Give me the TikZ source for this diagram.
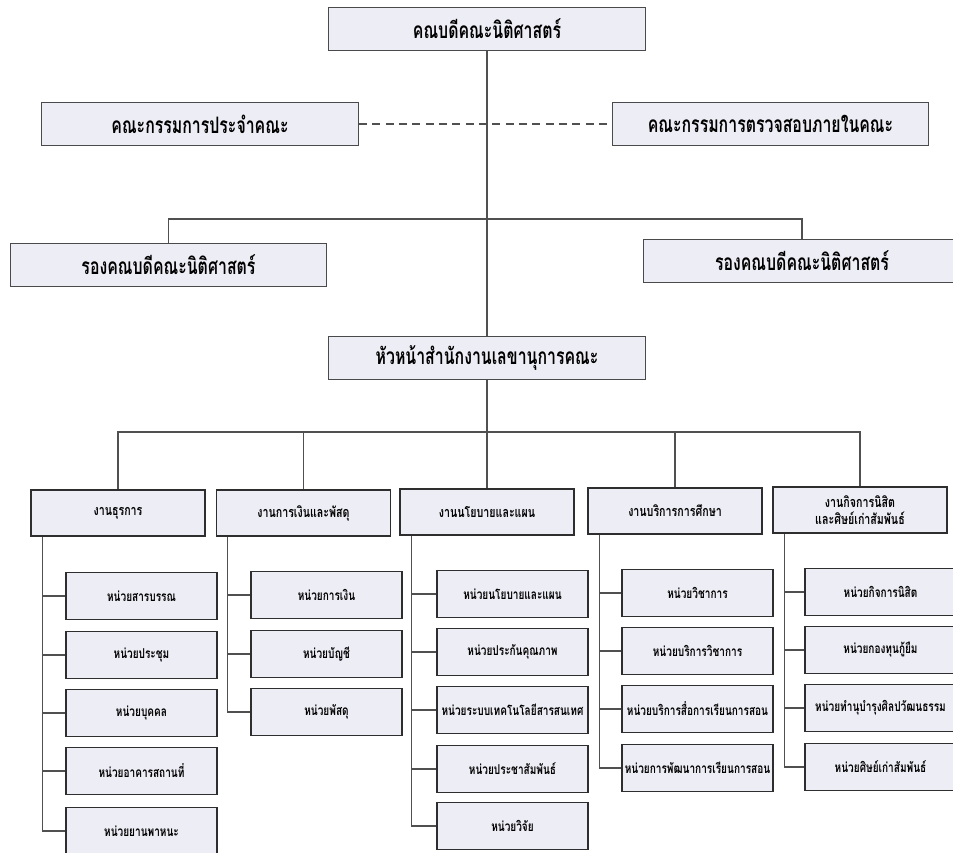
\documentclass[tikz,border=0pt]{standalone}
\usepackage{fontspec}
\newfontfamily\thai[Script=Thai,FakeStretch=0.74]{Loma}
\newfontfamily\thaitop[Script=Thai,FakeStretch=0.7]{Loma}
\usetikzlibrary{positioning}
\definecolor{boxfill}{HTML}{EDEDF5}
\definecolor{boxline}{HTML}{4A4A4A}
\definecolor{darkline}{HTML}{2E2E2E}
\definecolor{connline}{HTML}{505050}
\begin{document}
\begin{tikzpicture}[x=0.75pt,y=-0.75pt,
  topbox/.style={draw=boxline,fill=boxfill,line width=0.8pt,minimum width=237.5pt,minimum height=32.5pt,inner sep=0pt,font=\thaitop\bfseries\fontsize{17}{19}\selectfont},
  grpbox/.style={draw=darkline,fill=boxfill,line width=1.3pt,minimum width=130.5pt,minimum height=34.5pt,inner sep=0pt,align=center,font=\thai\bfseries\fontsize{10.8}{12.5}\selectfont},
  unitbox/.style={draw=darkline,fill=boxfill,line width=1.3pt,minimum width=113.25pt,minimum height=35.25pt,inner sep=0pt,font=\thai\bfseries\fontsize{10.2}{12}\selectfont},
  conn/.style={draw=connline,line width=0.8pt},
  dashconn/.style={draw=connline,line width=0.8pt,dash pattern=on 6pt off 4pt}]
\path[use as bounding box,fill=white] (0,0) rectangle (953,853);
\begin{scope}
\clip (0,0) rectangle (953,853);
% level 1
\node[topbox] (dean) at (487,29) {คณบดีคณะนิติศาสตร์};
\node[topbox] (comL) at (200,124) {คณะกรรมการประจำคณะ};
\node[topbox] (comR) at (770.5,124) {คณะกรรมการตรวจสอบภายในคณะ};
\node[topbox] (vL) at (168.5,265) {รองคณบดีคณะนิติศาสตร์};
\node[topbox] (vR) at (802,261) {รองคณบดีคณะนิติศาสตร์};
\node[topbox] (head) at (487,358) {หัวหน้าสำนักงานเลขานุการคณะ};
% level 3
\node[grpbox] (g1) at (118,513) {งานธุรการ};
\node[grpbox] (g2) at (303.5,513) {งานการเงินและพัสดุ};
\node[grpbox] (g3) at (487,512) {งานนโยบายและแผน};
\node[grpbox] (g4) at (675,511) {งานบริการการศึกษา};
\node[grpbox] (g5) at (860,510) {งานกิจการนิสิต\\และศิษย์เก่าสัมพันธ์};
% units col 1
\node[unitbox] (u11) at (141.5,596) {หน่วยสารบรรณ};
\node[unitbox] (u12) at (141.5,655) {หน่วยประชุม};
\node[unitbox] (u13) at (141.5,713) {หน่วยบุคคล};
\node[unitbox] (u14) at (141.5,771) {หน่วยอาคารสถานที่};
\node[unitbox] (u15) at (141.5,831) {หน่วยยานพาหนะ};
% units col 2
\node[unitbox] (u21) at (326.5,595) {หน่วยการเงิน};
\node[unitbox] (u22) at (326.5,654) {หน่วยบัญชี};
\node[unitbox] (u23) at (326.5,712) {หน่วยพัสดุ};
% units col 3
\node[unitbox] (u31) at (512.5,594) {หน่วยนโยบายและแผน};
\node[unitbox] (u32) at (512.5,652) {หน่วยประกันคุณภาพ};
\node[unitbox] (u33) at (512.5,710) {หน่วยระบบเทคโนโลยีสารสนเทศ};
\node[unitbox] (u34) at (512.5,769) {หน่วยประชาสัมพันธ์};
\node[unitbox] (u35) at (512.5,826) {หน่วยวิจัย};
% units col 4
\node[unitbox] (u41) at (697.5,593) {หน่วยวิชาการ};
\node[unitbox] (u42) at (697.5,651) {หน่วยบริการวิชาการ};
\node[unitbox] (u43) at (697.5,709) {หน่วยบริการสื่อการเรียนการสอน};
\node[unitbox] (u44) at (697.5,768) {หน่วยการพัฒนาการเรียนการสอน};
% units col 5
\node[unitbox] (u51) at (880.5,592) {หน่วยกิจการนิสิต};
\node[unitbox] (u52) at (880.5,650) {หน่วยกองทุนกู้ยืม};
\node[unitbox] (u53) at (880.5,708) {หน่วยทำนุบำรุงศิลปวัฒนธรรม};
\node[unitbox] (u54) at (880.5,767) {หน่วยศิษย์เก่าสัมพันธ์};
% connectors top
\coordinate (bar1) at (487,219);
\coordinate (bar2) at (487,432);
\draw[conn] (dean.south) -- (head.north);
\draw[dashconn] (comL.east) -- (comR.west);
\draw[conn] (vL.north) |- (bar1) -| (vR.north);
\draw[conn] (head.south) -- (bar2);
\draw[conn] (g1.north) |- (bar2) -| (g5.north);
\draw[conn] (g2.north) -- (g2.north |- bar2);
\draw[conn] (g3.north) -- (g3.north |- bar2);
\draw[conn] (g4.north) -- (g4.north |- bar2);
% spines
\coordinate (s1) at ([xshift=9pt]g1.south west);
\coordinate (s2) at ([xshift=9pt]g2.south west);
\coordinate (s3) at ([xshift=9pt]g3.south west);
\coordinate (s4) at ([xshift=9pt]g4.south west);
\coordinate (s5) at ([xshift=9pt]g5.south west);
\draw[conn] (s1) |- (u15.west);
\draw[conn] (s2) |- (u23.west);
\draw[conn] (s3) |- (u35.west);
\draw[conn] (s4) |- (u44.west);
\draw[conn] (s5) |- (u54.west);
\foreach \u in {u11,u12,u13,u14} \draw[conn] (\u.west) -- (\u.west -| s1);
\foreach \u in {u21,u22} \draw[conn] (\u.west) -- (\u.west -| s2);
\foreach \u in {u31,u32,u33,u34} \draw[conn] (\u.west) -- (\u.west -| s3);
\foreach \u in {u41,u42,u43} \draw[conn] (\u.west) -- (\u.west -| s4);
\foreach \u in {u51,u52,u53} \draw[conn] (\u.west) -- (\u.west -| s5);
\end{scope}
\end{tikzpicture}
\end{document}
